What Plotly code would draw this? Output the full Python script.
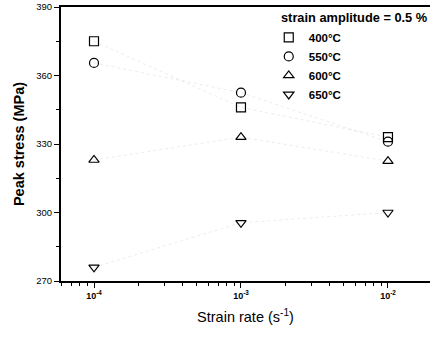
import plotly.graph_objects as go

strain_rate = [1e-4, 1e-3, 1e-2]
temps = ["400°C", "550°C", "600°C", "650°C"]
stress_400 = [375, 346, 333]
stress_550 = [365.5, 352.5, 331]
stress_600 = [323, 333, 322.5]
stress_650 = [276, 295.5, 300]
series = [stress_400, stress_550, stress_600, stress_650]
symbols = ["square-open", "circle-open", "triangle-up-open", "triangle-down-open"]

y_ticks = [270, 300, 330, 360, 390]
x_ticks = [1e-4, 1e-3, 1e-2]
x_ticktext = ["<b>10<sup>-4</sup></b>", "<b>10<sup>-3</sup></b>", "<b>10<sup>-2</sup></b>"]
x_minor = [m * 10.0 ** e for e in (-5, -4, -3, -2) for m in range(2, 10)]

fig = go.Figure()
for vals in series:
    fig.add_trace(go.Scatter(
        x=strain_rate, y=vals, mode="lines", showlegend=False,
        line=dict(color="rgba(0,0,0,0.08)", width=1, dash="dot"),
        hoverinfo="skip"))
for name, vals, sym in zip(temps, series, symbols):
    fig.add_trace(go.Scatter(
        x=strain_rate, y=vals, mode="markers", name="<b>" + name + "</b>",
        marker=dict(symbol=sym, size=9, color="black", line=dict(color="black", width=1.2))))

font_fam = "Liberation Sans, Arial, sans-serif"
fig.update_layout(
    width=430, height=337,
    margin=dict(l=61, r=0, t=7, b=56),
    paper_bgcolor="white", plot_bgcolor="white",
    font=dict(family=font_fam, color="black"),
    showlegend=True,
    legend=dict(
        x=0.563, xanchor="left", y=0.942, yanchor="top",
        bgcolor="rgba(0,0,0,0)", borderwidth=0,
        font=dict(size=11.5, family=font_fam),
        itemwidth=30, tracegroupgap=0,
    ),
    annotations=[dict(
        text="<b>strain amplitude = 0.5 %</b>", xref="paper", yref="paper",
        x=1.0, xanchor="right", y=0.96, yanchor="middle", showarrow=False,
        font=dict(size=12.8, family=font_fam))],
    xaxis=dict(
        type="log", range=[-4.2245, -1.714],
        tickvals=x_ticks, ticktext=x_ticktext,
        ticks="outside", ticklen=5, tickwidth=1.2, tickcolor="black",
        minor=dict(tickvals=x_minor, ticks="outside", ticklen=3, tickcolor="black"),
        showline=True, linecolor="black", linewidth=2, mirror=True,
        showgrid=False, zeroline=False,
        tickfont=dict(size=9, family=font_fam),
        title=dict(text="Strain rate (s<sup>-1</sup>)", font=dict(size=14.5, family=font_fam), standoff=12),
    ),
    yaxis=dict(
        range=[270, 390], tickvals=y_ticks,
        ticks="outside", ticklen=5, tickwidth=1.2, tickcolor="black",
        minor=dict(dtick=15, ticks="outside", ticklen=3, tickcolor="black"),
        showline=True, linecolor="black", linewidth=2, mirror=False,
        showgrid=False, zeroline=False,
        tickfont=dict(size=9.5, family=font_fam),
        tickprefix="<b>", ticksuffix="</b>",
        title=dict(text="<b>Peak stress (MPa)</b>", font=dict(size=14.5, family=font_fam), standoff=8),
    ),
)
fig.write_html("out.html")
